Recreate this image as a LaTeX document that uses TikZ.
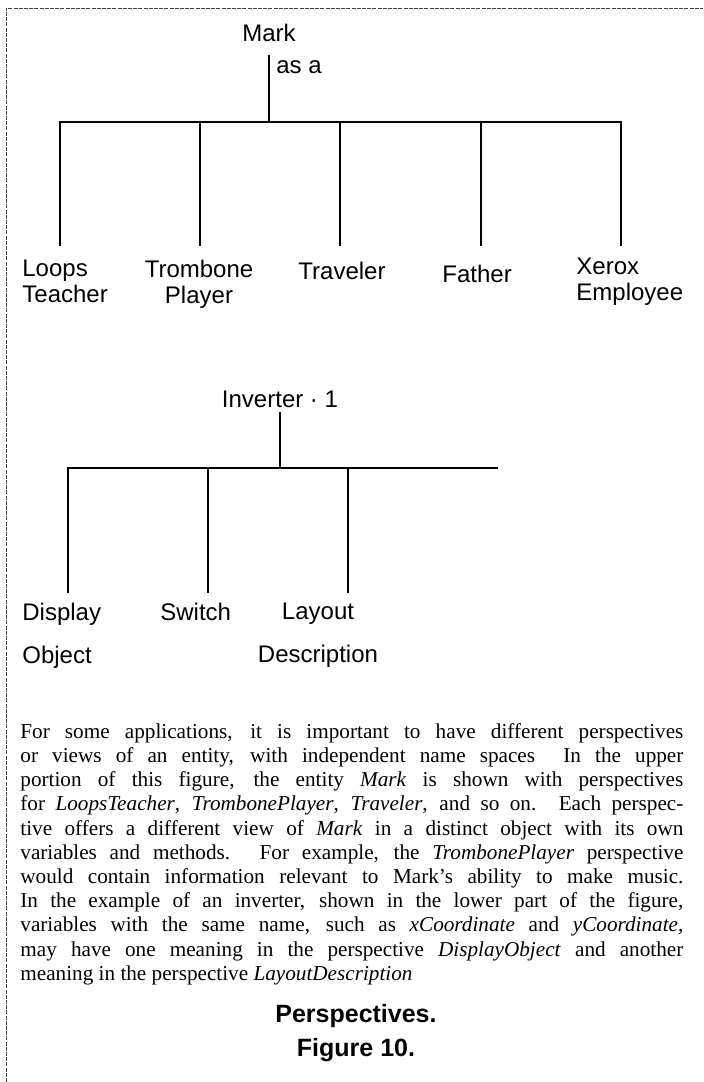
\documentclass[tikz,border=0pt]{standalone}
\usepackage{fontspec}
\setmainfont{Liberation Serif}
\setsansfont{Liberation Sans}
\usepackage{tikz}
\usetikzlibrary{calc}

\begin{document}
\begin{tikzpicture}[x=0.5pt, y=-0.5pt,
    lbl/.style={inner sep=0pt, font=\sffamily\fontsize{12}{13}\selectfont},
    branch/.style={line width=1.2pt, line cap=rect}]
  \useasboundingbox (0,0) rectangle (703,1082);
  \draw[line width=0.5pt, black!75, dash pattern=on 2pt off 0.6pt] (6,1082) -- (6,8) -- (703,8);

  \node (mark) [lbl, anchor=base] at (269,41) {Mark};
  \node (asa) [lbl, anchor=base west] at (276,73) {as a};
  \node (loops) [lbl, anchor=north west, align=left] at (22,259.5) {Loops\\Teacher};
  \node (trombone) [lbl, anchor=north, align=center] at (199,259.5) {Trombone\\Player};
  \node (traveler) [lbl, anchor=base west] at (298,279) {Traveler};
  \node (father) [lbl, anchor=base west] at (442,282) {Father};
  \node (xerox) [lbl, anchor=north west, align=left] at (576,257.5) {Xerox\\Employee};
  \coordinate (h1) at (269,122);
  \coordinate (t1) at (60,122);
  \coordinate (t2) at (200,122);
  \coordinate (t3) at (340,122);
  \coordinate (t4) at (481,122);
  \coordinate (t5) at (621,122);
  \draw[branch] (t1) -- (t5);
  \draw[branch, shorten <=7.5pt] (mark.south) -- (h1);
  \draw[branch, shorten >=7.2pt] (t1) -- (t1 |- loops.north);
  \draw[branch, shorten >=7.2pt] (t2) -- (t2 |- trombone.north);
  \draw[branch, shorten >=7.2pt] (t3) -- (t3 |- loops.north);
  \draw[branch, shorten >=7.2pt] (t4) -- (t4 |- loops.north);
  \draw[branch, shorten >=6.2pt] (t5) -- (t5 |- xerox.north);

  \node (inverter) [lbl, anchor=base] at (280,407) {Inverter · 1};
  \node (display) [lbl, anchor=north west, align=left, font=\sffamily\fontsize{12}{21.5}\selectfont] at (22,602.5) {Display\\Object};
  \node (switch) [lbl, anchor=base west] at (160,620) {Switch};
  \node (layout) [lbl, anchor=north, align=center, font=\sffamily\fontsize{12}{21.5}\selectfont] at (318,602.5) {Layout\\Description};
  \coordinate (h2) at (280,468);
  \coordinate (u1) at (68,468);
  \coordinate (u2) at (208,468);
  \coordinate (u3) at (348,468);
  \coordinate (uend) at (497,468);
  \draw[branch] (u1) -- (uend);
  \draw[branch, shorten <=3pt] (inverter.south) -- (h2);
  \draw[branch, shorten >=5.2pt] (u1) -- (u1 |- display.north);
  \draw[branch, shorten >=5.2pt] (u2) -- (u2 |- display.north);
  \draw[branch, shorten >=5.2pt] (u3) -- (u3 |- layout.north);

  \node (para) [anchor=north west, inner sep=0pt, text width=331.5pt, align=justify,
    font=\fontsize{10.6}{12.1}\selectfont] at (20,723) {For some applications, it is important to have different perspectives\linebreak
    or views of an entity, with independent name spaces\ \ In the upper\linebreak
    portion of this figure, the entity \textit{Mark} is shown with perspectives\linebreak
    for \textit{LoopsTeacher}, \textit{TrombonePlayer}, \textit{Traveler}, and so on. Each perspec-\linebreak
    tive offers a different view of \textit{Mark} in a distinct object with its own\linebreak
    variables and methods. For example, the \textit{TrombonePlayer} perspective\linebreak
    would contain information relevant to Mark's ability to make music.\linebreak
    In the example of an inverter, shown in the lower part of the figure,\linebreak
    variables with the same name, such as \textit{xCoordinate} and \textit{yCoordinate},\linebreak
    may have one meaning in the perspective \textit{DisplayObject} and another\linebreak
    meaning in the perspective \textit{LayoutDescription}};
  \node (caption) [anchor=north, inner sep=0pt, align=center,
    font=\sffamily\bfseries\fontsize{12.5}{17}\selectfont] at (356,1004) {Perspectives.\\Figure 10.};
\end{tikzpicture}
\end{document}
